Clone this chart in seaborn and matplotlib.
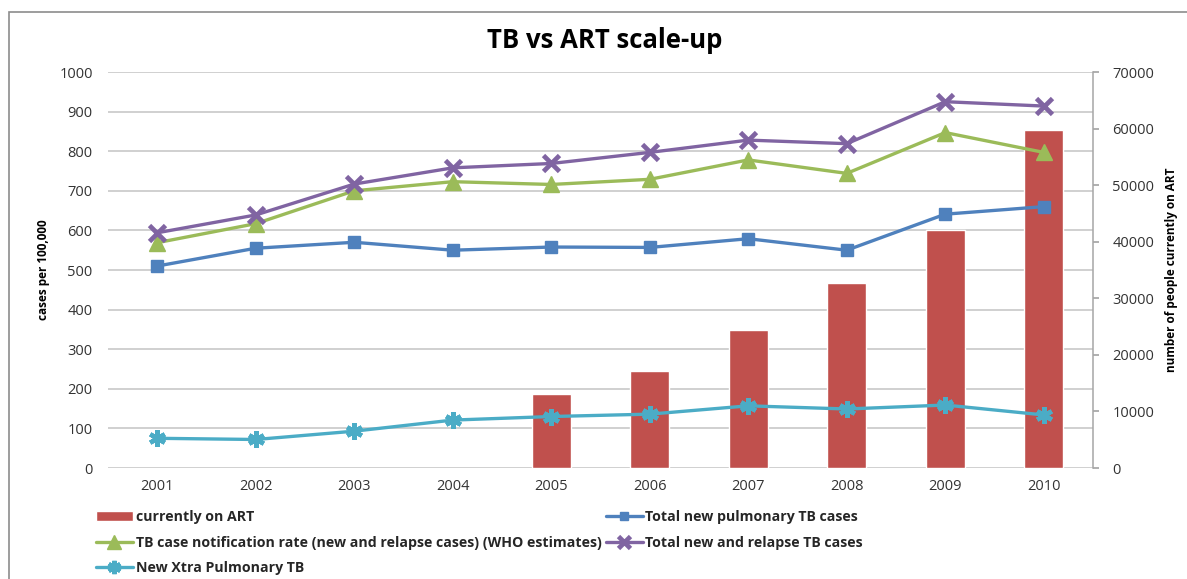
import matplotlib.pyplot as plt
from matplotlib.ticker import MultipleLocator
from matplotlib.patches import Rectangle
import seaborn as sns
import numpy as np

years = [2001, 2002, 2003, 2004, 2005, 2006, 2007, 2008, 2009, 2010]
on_art = [np.nan, np.nan, np.nan, np.nan, 13150, 17150, 24400, 32700, 42050, 59750]
pulmonary = [510, 555, 570, 550, 558, 557, 579, 550, 641, 660]
notif_rate = [569, 617, 700, 723, 716, 729, 778, 744, 847, 797]
new_relapse = [594, 639, 717, 758, 769, 797, 828, 819, 925, 914]
extra_pulm = [75, 72, 93, 121, 130, 136, 157, 149, 159, 134]
left_ticks = list(range(0, 1001, 100))
right_ticks = list(range(0, 70001, 10000))

sns.set_theme(style='white')
plt.rcParams['font.family'] = ['Open Sans', 'DejaVu Sans']

W, H = 1187, 579
fig = plt.figure(figsize=(W / 100, H / 100), dpi=100)
ax = fig.add_axes([108 / W, 1 - 468 / H, (1093 - 108) / W, (468 - 72) / H])
ax2 = ax.twinx()

# bars sit on the right axis, below the lines
sns.barplot(x=years, y=on_art, ax=ax2, native_scale=True, color='#C0504D',
            width=0.4, saturation=1, errorbar=None, label='currently on ART')

series = [
    (pulmonary, 'Total new pulmonary TB cases', '#4F81BD', 's', 8, 1),
    (notif_rate, 'TB case notification rate (new and relapse cases) (WHO estimates)',
     '#9BBB59', '^', 12, 1),
    (new_relapse, 'Total new and relapse TB cases', '#8064A2', 'x', 11, 3.4),
    (extra_pulm, 'New Xtra Pulmonary TB', '#4BACC6', (6, 2, 0), 12, 3.2),
]
for vals, name, col, mk, ms, mew in series:
    sns.lineplot(x=years, y=vals, ax=ax, color=col, linewidth=2.4, marker=mk,
                 markersize=ms, markeredgewidth=mew, markeredgecolor=col,
                 label=name)

ax.set_zorder(ax2.get_zorder() + 1)
ax.patch.set_visible(False)

ax.set_xlim(2000.5, 2010.5)
ax.set_ylim(0, 1000)
ax.set_yticks(left_ticks)
ax.set_xticks(years)
ax.set_xticklabels([str(y) for y in years])
ax2.set_ylim(0, 70000)
ax2.set_yticks(right_ticks)
ax2.yaxis.set_minor_locator(MultipleLocator(7000))
ax2.yaxis.remove_overlapping_locs = False
ax2.grid(which='minor', axis='y', color='#c4c4c4', linewidth=1.1)
ax2.grid(which='major', visible=False)

for s in ax.spines.values():
    s.set_visible(False)
for name, s in ax2.spines.items():
    s.set_visible(name == 'right')
ax2.spines['right'].set_color('#a6a6a6')
ax2.spines['right'].set_linewidth(1.1)

ax.tick_params(axis='y', length=0, pad=11, labelsize=10.5, labelcolor='#333333')
ax.tick_params(axis='x', length=0, pad=8, labelsize=10.5, labelcolor='#333333')
ax2.tick_params(axis='y', which='major', right=True, direction='out', length=4,
                color='#a6a6a6', pad=10, labelsize=10.5, labelcolor='#333333')
ax2.tick_params(axis='y', which='minor', length=0)
ax.set_xlabel('')
ax.set_ylabel('')
ax2.set_ylabel('')
ax.get_legend().remove()
if ax2.get_legend():
    ax2.get_legend().remove()

fig.text(605 / W, 1 - 40 / H, 'TB vs ART scale-up', ha='center', va='center',
         fontsize=18.5, fontweight='bold', color='black')
fig.text(43 / W, 1 - 270 / H, 'cases per 100,000', rotation=90, ha='center',
         va='center', fontsize=8.5, fontweight='bold', color='black')
fig.text(1172 / W, 1 - 270 / H, 'number of people currently on ART', rotation=90,
         ha='center', va='center', fontsize=8.5, fontweight='bold', color='black')

h1, l1 = ax.get_legend_handles_labels()
h2, l2 = ax2.get_legend_handles_labels()
lookup = dict(zip(l1 + l2, h1 + h2))
order = ['currently on ART',
         'TB case notification rate (new and relapse cases) (WHO estimates)',
         'New Xtra Pulmonary TB',
         'Total new pulmonary TB cases',
         'Total new and relapse TB cases']
fig.legend([lookup[k] for k in order], order, loc='upper left',
           bbox_to_anchor=(96 / W, 1 - 510 / H), ncol=2, frameon=False,
           prop={'weight': 'bold', 'size': 10.2}, handlelength=2.6,
           handletextpad=0.2, columnspacing=0.3, labelspacing=0.82,
           borderpad=0, borderaxespad=0, markerscale=0.8)

# chart border (only left and top visible in the crop)
fig.patches.append(Rectangle((9 / W, -0.1), 1.2, 1.1 - 12 / H, transform=fig.transFigure,
                             fill=False, edgecolor='#8c8c8c', linewidth=1.2))

plt.savefig('out.png', dpi=100)
